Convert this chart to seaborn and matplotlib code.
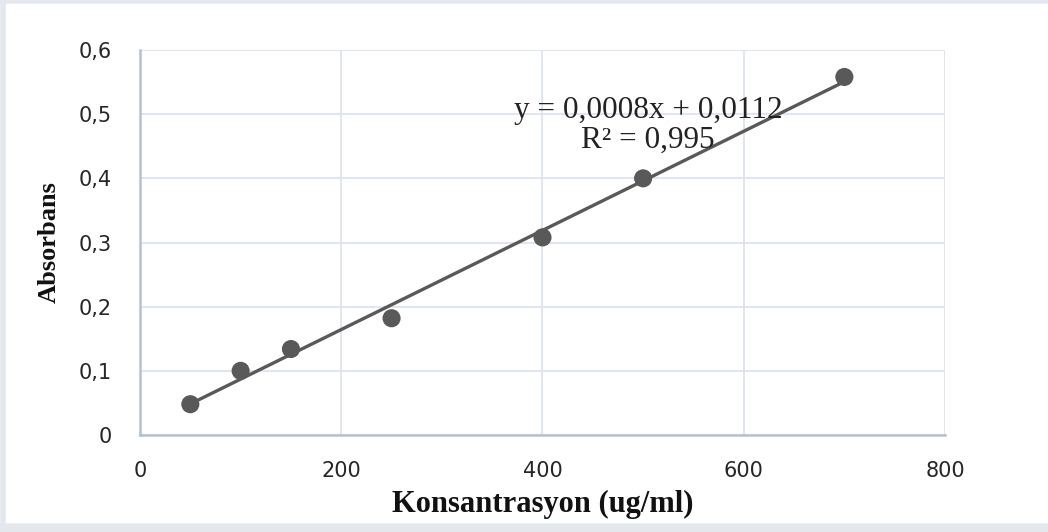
import matplotlib
matplotlib.use("Agg")
import matplotlib.pyplot as plt
import matplotlib.ticker as mticker
from matplotlib.lines import Line2D
import seaborn as sns
import pandas as pd

# Data
konsantrasyon = [50, 100, 150, 250, 400, 500, 700]
absorbans = [0.048, 0.100, 0.134, 0.182, 0.308, 0.400, 0.558]
x_ticks = [0, 200, 400, 600, 800]
y_ticks = [0, 0.1, 0.2, 0.3, 0.4, 0.5, 0.6]
equation_text = "y = 0,0008x + 0,0112"
r2_text = "R² = 0,995"
x_label = "Konsantrasyon (ug/ml)"
y_label = "Absorbans"

df = pd.DataFrame({"x": konsantrasyon, "y": absorbans})

sns.set_theme(style="white")
plt.rcParams["font.family"] = ["DejaVu Sans"]

fig = plt.figure(figsize=(10.48, 5.32), dpi=100)
ax = fig.add_axes([0.1336, 0.1823, 0.7681, 0.7237])

dark = "#595959"
sns.regplot(data=df, x="x", y="y", ax=ax, ci=None,
            scatter_kws=dict(s=170, color=dark, edgecolor="none", alpha=1, zorder=3),
            line_kws=dict(color=dark, lw=2.4, zorder=2))

ax.set_xlim(0, 800)
ax.set_ylim(0, 0.6)
ax.set_xticks(x_ticks)
ax.set_yticks(y_ticks)

def comma_fmt(v, pos):
    if abs(v) < 1e-9:
        return "0"
    return f"{v:.1f}".replace(".", ",")

ax.yaxis.set_major_formatter(mticker.FuncFormatter(comma_fmt))
ax.xaxis.set_major_formatter(mticker.FuncFormatter(lambda v, p: f"{int(v)}"))

ax.grid(True, color="#dde3ee", lw=1.3)
ax.set_axisbelow(True)
for s in ["top", "right"]:
    ax.spines[s].set_visible(False)
for s in ["left", "bottom"]:
    ax.spines[s].set_color("#b4c0d4")
    ax.spines[s].set_linewidth(1.8)

ax.tick_params(axis="both", length=0, labelsize=15, colors="#262626")
ax.tick_params(axis="x", pad=19)
ax.tick_params(axis="y", pad=20)

ax.set_xlabel(x_label, family="Liberation Serif", fontweight="bold", fontsize=22, color="#111111", labelpad=6)
ax.set_ylabel(y_label, family="Liberation Serif", fontweight="bold", fontsize=19, color="#111111", labelpad=13)

ax.text(505, 0.505, equation_text, family="Liberation Serif", fontsize=22.5, color="#222222",
        ha="center", va="center")
ax.text(505, 0.459, r2_text, family="Liberation Serif", fontsize=22.5, color="#222222",
        ha="center", va="center")

frame_kw = dict(transform=fig.transFigure, color="#e4e7ec", lw=4)
fig.add_artist(Line2D([0, 1], [0.998, 0.998], **frame_kw))
fig.add_artist(Line2D([0.003, 0.003], [0, 1], **frame_kw))
fig.add_artist(Line2D([0, 1], [0.006, 0.006], color="#e4e7ec", lw=9, transform=fig.transFigure))

fig.savefig("out.png", dpi=100, facecolor="white")
